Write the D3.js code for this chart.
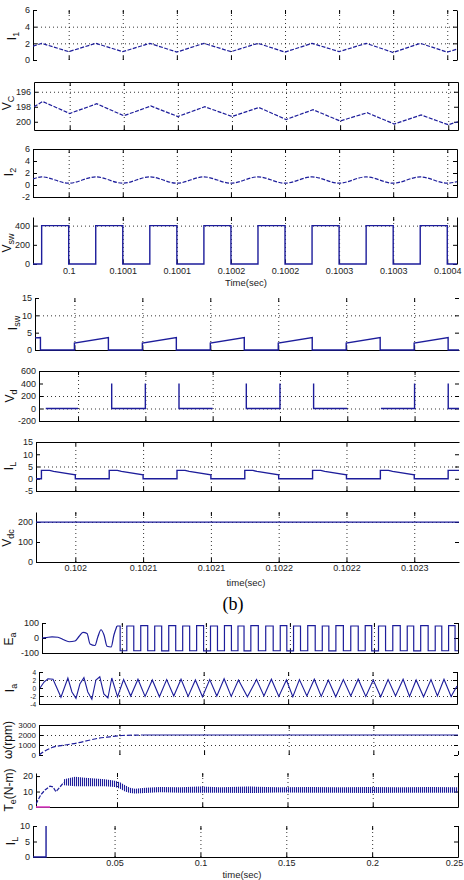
<!DOCTYPE html>
<meta charset="utf-8">
<title>Converter and motor waveforms</title>
<style>
  body { margin: 0; background: #fff; }
  svg { display: block; font-family: "Liberation Sans Narrow", "Liberation Sans", Arial, sans-serif; }
  .frame text { font-size: 9px; fill: #222; }
  .frame path, .frame line { stroke: #000; stroke-width: 1; }
  .grid line { stroke: #000; stroke-width: 0.8; stroke-dasharray: 1,3; }
  .ylab { font-size: 12px; fill: #111; font-family: "Liberation Sans", Arial, sans-serif; }
  .xlab { font-size: 9.5px; fill: #222; }
</style>
<script src="https://d3js.org/d3.v7.min.js"></script>
<body>
<script>
// ---------- group 1 : one switching interval ----------
const tA = [0.099967, 0.099975, 0.100000, 0.100025, 0.100050, 0.100075, 0.100100, 0.100125, 0.100150,
            0.100175, 0.100200, 0.100225, 0.100250, 0.100275, 0.100300, 0.100325, 0.100350, 0.100359];
const i1  = [1.65, 2.0, 1.0, 2.0, 1.0, 2.0, 0.95, 2.0, 1.0, 2.0, 0.95, 2.0, 1.0, 2.0, 0.9, 2.0, 0.95, 1.3];
const vc  = [198.0, 197.3, 198.9, 197.6, 199.2, 197.9, 199.3, 198.0, 199.3, 198.1, 199.7, 198.4, 199.9, 198.8, 200.3, 199.1, 200.4, 200.0];
const i2  = [1.0, 1.35, 0.3, 1.35, 0.3, 1.35, 0.3, 1.35, 0.3, 1.35, 0.3, 1.35, 0.3, 1.35, 0.3, 1.35, 0.3, 0.55];
const vsw = [0, 400, 0, 400, 0, 400, 0, 400, 0, 400, 0, 400, 0, 400, 0, 400, 0, 0];
const ticksA  = [0.1, 0.10005, 0.1001, 0.10015, 0.1002, 0.10025, 0.1003, 0.10035];
const labelsA = ["0.1", "0.1001", "0.1001", "0.1002", "0.1002", "0.1003", "0.1003", "0.1004"];

// ---------- group 2 (b) ----------
const isw = [[0.101971,3.5],[0.101975,3.6],[0.101975,0],[0.102000,0],[0.102000,2.0],[0.102025,3.6],[0.102025,0],
             [0.102050,0],[0.102050,2.0],[0.102075,3.6],[0.102075,0],[0.102100,0],[0.102100,2.0],[0.102125,3.6],
             [0.102125,0],[0.102150,0],[0.102150,2.0],[0.102175,3.6],[0.102175,0],[0.102200,0],[0.102200,2.0],
             [0.102225,3.6],[0.102225,0],[0.102250,0],[0.102250,2.0],[0.102275,3.6],[0.102275,0],[0.102283,0]];
const vd  = [[0.101976,0],[0.102000,0],null,
             [0.102025,400],[0.102025,0],[0.102050,0],[0.102050,400],null,
             [0.102075,400],[0.102075,0],[0.102100,0],null,
             [0.102125,400],[0.102125,0],[0.102150,0],[0.102150,400],null,
             [0.102175,400],[0.102175,0],[0.102200,0],null,
             [0.102225,0],[0.102250,0],[0.102250,400],null,
             [0.102275,400],[0.102275,0],[0.102283,0]];
const iL  = [[0.101971,0],
             [0.101975,0],[0.101975,3.4],[0.101981,3.4],[0.101984,3.0],[0.102000,1.6],[0.102000,0],
             [0.102025,0],[0.102025,3.4],[0.102031,3.4],[0.102034,3.0],[0.102050,1.6],[0.102050,0],
             [0.102075,0],[0.102075,3.4],[0.102081,3.4],[0.102084,3.0],[0.102100,1.6],[0.102100,0],
             [0.102125,0],[0.102125,3.4],[0.102131,3.4],[0.102134,3.0],[0.102150,1.6],[0.102150,0],
             [0.102175,0],[0.102175,3.4],[0.102181,3.4],[0.102184,3.0],[0.102200,1.6],[0.102200,0],
             [0.102225,0],[0.102225,3.4],[0.102231,3.4],[0.102234,3.0],[0.102250,1.6],[0.102250,0],
             [0.102275,0],[0.102275,3.4],[0.102283,3.4]];
const vdc = [[0.101971,199.5],[0.102283,199.5]];
const ticksB  = [0.102, 0.10205, 0.1021, 0.10215, 0.1022, 0.10225];
const labelsB = ["0.102", "0.1021", "0.1021", "0.1022", "0.1022", "0.1023"];

// ---------- group 3 : start-up of the motor ----------
const eaStart = [[0.0025,0],[0.0049,3],[0.0085,8],[0.0120,5],[0.0150,-10],[0.0186,-25],[0.0221,-20],[0.0245,10],
                 [0.0269,38],[0.0293,30],[0.0311,-40],[0.0340,-50],[0.0358,10],[0.0376,55],[0.0394,20],
                 [0.0412,-55],[0.0436,-60],[0.0453,20],[0.0471,80]];
const eaRun = [[0.0471,80],[0.0509,-85],[0.0550,80],[0.0592,-85],[0.0633,82],[0.0675,-85],[0.0716,80],[0.0758,-86],
               [0.0800,82],[0.0841,-85],[0.0883,80],[0.0924,-85],[0.0966,82],[0.1007,-86],[0.1048,80],[0.1090,-85],
               [0.1131,82],[0.1173,-85],[0.1209,80],[0.1245,-86],[0.1290,82],[0.1334,-85],[0.1378,80],[0.1423,-85],
               [0.1462,82],[0.1501,-86],[0.1542,80],[0.1584,-85],[0.1628,82],[0.1673,-85],[0.1712,80],[0.1751,-86],
               [0.1796,82],[0.1840,-85],[0.1884,80],[0.1929,-85],[0.1967,82],[0.2006,-86],[0.2048,80],[0.2090,-85],
               [0.2134,82],[0.2179,-85],[0.2217,80],[0.2256,-86],[0.2300,82],[0.2345,-85],[0.2384,80],[0.2423,-85],
               [0.2465,82],[0.2500,-85]];
const ia = [[0.0031,0],[0.0055,1.5],[0.0078,2.3],[0.0108,2.2],[0.0131,0],[0.0155,-2.3],[0.0179,0.5],[0.0196,2.5],
            [0.0220,-1],[0.0244,-2.6],[0.0267,1],[0.0291,2.6],[0.0314,-1],[0.0338,-2.8],[0.0362,2],[0.0385,2.8],
            [0.0409,-1.5],[0.0433,-2.5],[0.0456,2.5],[0.0490,-2.2],[0.0526,2.1],[0.0568,-2.0],[0.0611,2.2],
            [0.0653,-2.1],[0.0696,2.0],[0.0738,-2.2],[0.0781,2.1],[0.0823,-2.0],[0.0866,2.2],[0.0908,-2.1],
            [0.0951,2.0],[0.0993,-2.2],[0.1036,2.1],[0.1078,-2.0],[0.1121,2.3],[0.1163,-2.1],[0.1206,2.0],
            [0.1259,-2.2],[0.1313,2.1],[0.1357,-2.0],[0.1401,2.2],[0.1445,-2.1],[0.1490,2.0],[0.1528,-2.2],
            [0.1567,2.1],[0.1611,-2.0],[0.1655,2.2],[0.1696,-2.1],[0.1738,2.0],[0.1782,-2.2],[0.1827,2.1],
            [0.1871,-2.0],[0.1915,2.2],[0.1960,-2.1],[0.2004,2.0],[0.2048,-2.2],[0.2092,2.1],[0.2136,-2.0],
            [0.2181,2.2],[0.2219,-2.1],[0.2258,2.0],[0.2302,-2.2],[0.2346,2.1],[0.2384,-2.0],[0.2423,2.2],
            [0.2465,-2.1],[0.2500,0.5]];
const speed = [[0.0025,0],[0.0060,400],[0.0102,750],[0.0179,1000],[0.0249,1200],[0.0314,1450],[0.0368,1650],
               [0.0444,1820],[0.0515,1950],[0.0592,1990],[0.0639,2000]];
const speedHeld = [[0.0639,2000],[0.2500,2000]];
const teStart = [[0.0025,2],[0.0054,8],[0.0078,11],[0.0107,13.5],[0.0125,13],[0.0142,9.8],[0.0166,13],[0.0189,16]];
const teBandT  = [0.0189, 0.0254, 0.0312, 0.0371, 0.0430, 0.0488, 0.0518, 0.0547, 0.0576, 0.0606, 0.0664, 0.0752,
                  0.0870, 0.0987, 0.1104, 0.1280, 0.1456, 0.1632, 0.1808, 0.1984, 0.2160, 0.2336, 0.2500];
const teBandHi = [18, 19.5, 19, 18.5, 18, 17, 16, 14, 12.5, 11.8, 12.5, 13, 12.8, 13.2, 12.8, 13.2, 12.8, 13, 12.8, 13, 12.8, 13, 12.7];
const teBandLo = [14, 13.5, 13.5, 13.5, 13.5, 13, 11.8, 10, 9, 8.8, 9, 9.5, 9.3, 9.2, 9.2, 9, 9.4, 9.2, 9.3, 9, 9.3, 9.2, 9.3];
const tLoad = [[0.0025,0],[0.0107,0]];
const pulse = [[0.0025,0],[0.0101,0],[0.0101,10]];
const ticksC  = [0.05, 0.1, 0.15, 0.2, 0.25];
const labelsC = ["0.05", "0.1", "0.15", "0.2", "0.25"];

// ---------- drawing ----------
const BLUE = "#1d1d9b", PINK = "#e040c8";
const svg = d3.select("body").append("svg").attr("width", 464).attr("height", 880);
svg.append("rect").attr("width", 464).attr("height", 880).attr("fill", "#fff");
const defs = svg.append("defs");
defs.append("pattern").attr("id", "hatch").attr("patternUnits", "userSpaceOnUse")
    .attr("width", 2).attr("height", 6)
  .append("rect").attr("width", 1.1).attr("height", 6).attr("fill", BLUE);

let clipCount = 0;
function panel(p) {
  const x = d3.scaleLinear().domain(p.xd).range([p.l, p.r]);
  const y = d3.scaleLinear().domain(p.yd).range([p.b, p.t]);
  const w = p.r - p.l, h = p.b - p.t;
  const g = svg.append("g");

  g.append("g").attr("class", "grid").attr("transform", `translate(0,${p.b})`)
    .call(d3.axisBottom(x).tickValues(p.gx).tickSize(-h).tickFormat(""))
    .call(s => s.select(".domain").remove());
  g.append("g").attr("class", "grid").attr("transform", `translate(${p.l},0)`)
    .call(d3.axisLeft(y).tickValues(p.gy).tickSize(-w).tickFormat(""))
    .call(s => s.select(".domain").remove());

  const side = (gen, tr, keep) => g.append("g").attr("class", "frame").attr("transform", tr).call(gen)
    .call(s => { if (!keep) s.select(".domain").remove(); });
  const left = side(d3.axisLeft(y).tickValues(p.yt).tickSize(-4).tickSizeOuter(0).tickPadding(3).tickFormat(d => String(d)),
       `translate(${p.l},0)`, p.sides.includes("l"));
  if (p.yfs) left.selectAll("text").style("font-size", p.yfs);
  side(d3.axisRight(y).tickValues(p.yt).tickSize(-4).tickSizeOuter(0).tickFormat(""),
       `translate(${p.r},0)`, p.sides.includes("r"));
  side(d3.axisTop(x).tickValues(p.xt).tickSize(-4).tickSizeOuter(0).tickFormat(""),
       `translate(0,${p.t})`, p.sides.includes("t"));
  const bottom = side(d3.axisBottom(x).tickValues(p.xt).tickSize(-4).tickSizeOuter(0).tickPadding(p.xpad || 4)
         .tickFormat(p.xl ? (d, i) => p.xl[i] : ""),
       `translate(0,${p.b})`, p.sides.includes("b"));
  // keep the last label inside the picture, as in the original
  if (p.xl) bottom.selectAll(".tick text").filter((d, i, n) => i === n.length - 1 && x(d) > 452).attr("dx", -4);

  const id = "clip" + (clipCount++);
  defs.append("clipPath").attr("id", id).append("rect")
    .attr("x", p.l).attr("y", p.t - 1).attr("width", w + 1).attr("height", h + 2);
  const plot = g.append("g").attr("clip-path", `url(#${id})`);

  (p.bands || []).forEach(b => {
    const area = d3.area().x((d, i) => x(b.t[i])).y0((d, i) => y(b.lo[i])).y1((d, i) => y(b.hi[i]));
    plot.append("path").datum(b.t).attr("d", area).attr("fill", "url(#hatch)");
  });
  (p.series || []).forEach(s => {
    const line = d3.line().defined(d => d !== null).x(d => x(d[0])).y(d => y(d[1])).curve(s.curve || d3.curveLinear);
    plot.append("path").datum(s.pts).attr("d", line).attr("fill", "none")
      .attr("stroke", s.color || BLUE).attr("stroke-width", s.w || 1.2)
      .attr("stroke-dasharray", s.dash || null);
  });

  const lab = svg.append("text").attr("class", "ylab")
    .attr("transform", `translate(${p.lx},${p.ly}) rotate(-90)`).attr("text-anchor", "middle");
  lab.append("tspan").text(p.ylab[0]);
  if (p.ylab[1]) lab.append("tspan").attr("dy", 3).style("font-size", "9px").text(p.ylab[1]);
  if (p.ylab[2]) lab.append("tspan").attr("dy", -3).text(p.ylab[2]);
  return { x, y };
}

const zipA = v => tA.map((t, i) => [t, v[i]]);
const xdA = [0.099967, 0.100359], xdB = [0.101971, 0.102283], xdC = [0.0025, 0.25];

// group 1
panel({ l: 33, r: 457, t: 10, b: 60, xd: xdA, yd: [0, 6], yt: [0, 2, 4, 6], xt: ticksA, gx: ticksA, gy: [2, 4],
        sides: "lr", ylab: ["I", "1"], lx: 16, ly: 36,
        series: [{ pts: zipA(i1), dash: "4,1.5" }] });
panel({ l: 34, r: 458, t: 82, b: 130, xd: xdA, yd: [201.1, 194.7], yt: [196, 198, 200], xt: ticksA, gx: ticksA, gy: [196],
        sides: "lrtb", ylab: ["V", "C"], lx: 11, ly: 103,
        series: [{ pts: zipA(vc), dash: "4,1.5" }] });
panel({ l: 33, r: 457, t: 149, b: 197, xd: xdA, yd: [-2, 6], yt: [-2, 0, 2, 4, 6], xt: ticksA, gx: ticksA, gy: [],
        sides: "lrtb", ylab: ["I", "2"], lx: 13, ly: 172,
        series: [{ pts: zipA(i2), curve: d3.curveMonotoneX, dash: "4,1.5" }] });
panel({ l: 33, r: 457, t: 217, b: 264, xd: xdA, yd: [0, 490], yt: [0, 200, 400], xt: ticksA, xl: labelsA, gx: ticksA, gy: [400],
        sides: "lr", ylab: ["V", "sw"], lx: 11, ly: 243,
        series: [{ pts: zipA(vsw), curve: d3.curveStepAfter, w: 1.4 }] });
svg.append("text").attr("class", "xlab").attr("x", 246).attr("y", 286).attr("text-anchor", "middle").text("Time(sec)");

// group 2
panel({ l: 35, r: 459, t: 298, b: 350, xd: xdB, yd: [0, 15], yt: [0, 5, 10, 15], xt: ticksB, gx: ticksB, gy: [10],
        sides: "lb", ylab: ["I", "sw"], lx: 17, ly: 323,
        series: [{ pts: isw, w: 1.4 }] });
panel({ l: 39, r: 459, t: 371, b: 421, xd: xdB, yd: [-200, 600], yt: [-200, 0, 200, 400, 600], xt: ticksB, gx: ticksB, gy: [0, 200],
        sides: "ltb", ylab: ["V", "d"], lx: 14, ly: 396,
        series: [{ pts: vd, w: 1.4 }] });
panel({ l: 36, r: 459, t: 442, b: 491, xd: xdB, yd: [-5, 15], yt: [-5, 0, 5, 10, 15], xt: ticksB, gx: ticksB, gy: [5],
        sides: "ltb", ylab: ["I", "L"], lx: 13, ly: 466,
        series: [{ pts: iL, w: 1.4 }] });
panel({ l: 36, r: 459, t: 512, b: 562, xd: xdB, yd: [0, 250], yt: [0, 100, 200], xt: ticksB, xl: labelsB, xpad: 3, gx: ticksB, gy: [200],
        sides: "lb", ylab: ["V", "dc"], lx: 11, ly: 538,
        series: [{ pts: vdc, w: 1.4 }] });
svg.append("text").attr("class", "xlab").attr("x", 246).attr("y", 586).attr("text-anchor", "middle").text("time(sec)");
svg.append("text").attr("x", 233).attr("y", 610).attr("text-anchor", "middle")
  .style("font-family", '"Liberation Serif", "Times New Roman", serif').style("font-size", "18px").text("(b)");

// group 3
panel({ l: 42, r: 458, t: 623, b: 653, xd: xdC, yd: [-100, 100], yt: [-100, 0, 100], xt: ticksC, gx: ticksC.slice(0, 4), gy: [],
        sides: "lbr", ylab: ["E", "a"], lx: 13, ly: 639,
        series: [{ pts: eaStart, curve: d3.curveMonotoneX }, { pts: eaRun, curve: d3.curveStep }] });
panel({ l: 39, r: 457, t: 672, b: 704, xd: xdC, yd: [-4, 4], yt: [-4, -2, 0, 2, 4], yfs: "6.5px", xt: ticksC, gx: ticksC.slice(0, 4), gy: [-2, 2],
        sides: "lbr", ylab: ["I", "a"], lx: 14, ly: 688,
        series: [{ pts: ia, w: 1.1 }] });
panel({ l: 39, r: 458, t: 725, b: 755, xd: xdC, yd: [0, 3000], yt: [0, 1000, 2000, 3000], yfs: "8px", xt: ticksC, gx: ticksC.slice(0, 4), gy: [1000, 2000],
        sides: "lt", ylab: ["ω(rpm)"], lx: 12, ly: 740,
        series: [{ pts: speed, curve: d3.curveMonotoneX, dash: "5,2" }, { pts: speedHeld }] });
panel({ l: 36, r: 458, t: 773, b: 807, xd: xdC, yd: [0, 22], yt: [0, 10, 20], xt: ticksC, gx: ticksC.slice(0, 4), gy: [],
        sides: "lbr", ylab: ["T", "e", "(N-m)"], lx: 13, ly: 790,
        bands: [{ t: teBandT, hi: teBandHi, lo: teBandLo }],
        series: [{ pts: teStart, dash: "4,1.5" }, { pts: tLoad, color: PINK, w: 1.6 }] });
panel({ l: 33, r: 458, t: 826, b: 857, xd: xdC, yd: [0, 10], yt: [0, 5, 10], xt: ticksC, xl: labelsC, xpad: 3, gx: ticksC.slice(0, 4), gy: [],
        sides: "lbr", ylab: ["I", "L"], lx: 15, ly: 841,
        series: [{ pts: pulse, w: 1.4 }] });
svg.append("text").attr("class", "xlab").attr("x", 242).attr("y", 878).attr("text-anchor", "middle").text("time(sec)");
</script>
</body>
